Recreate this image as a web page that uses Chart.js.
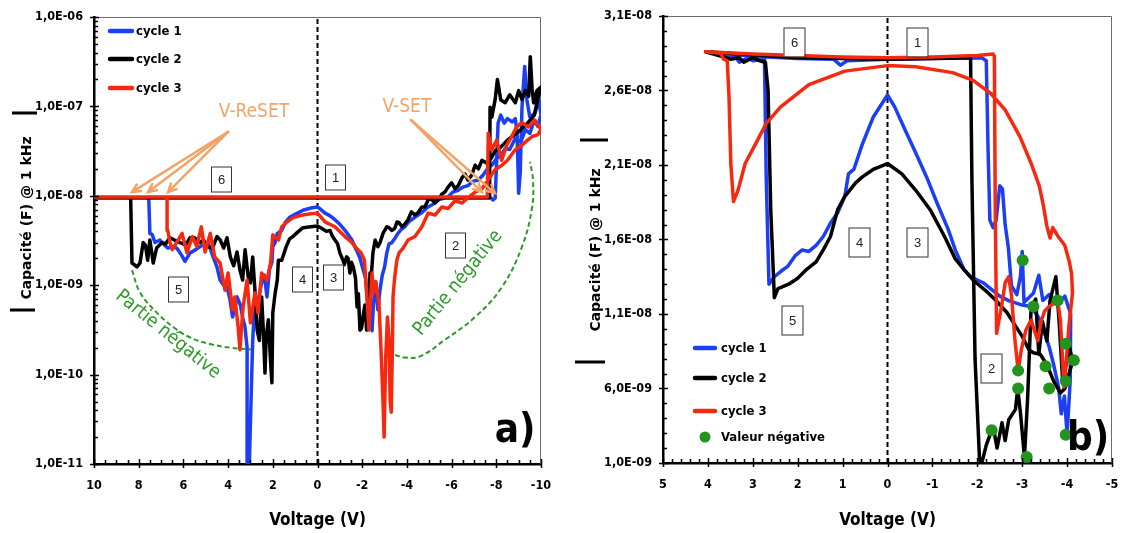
<!DOCTYPE html>
<html>
<head>
<meta charset="utf-8">
<script src="https://cdn.jsdelivr.net/npm/chart.js@4"></script>
<style>
html, body { margin: 0; padding: 0; background: #fff; }
#wrap { position: relative; width: 1126px; height: 533px; overflow: hidden; }
#ca { position: absolute; left: 0; top: 0; }
#cb { position: absolute; left: 560px; top: 0; }
</style>
</head>
<body>
<div id="wrap">
<canvas id="ca" width="560" height="533"></canvas>
<canvas id="cb" width="566" height="533"></canvas>
</div>
<script>
// ---------- panel a) : log scale ----------
var aTicksX = [10, 8, 6, 4, 2, 0, -2, -4, -6, -8, -10]
var aTicksY = [1e-11, 1e-10, 1e-9, 1e-8, 1e-7, 1e-6]

// cycle 1
var a1V = [0, -7.75, -7.85, -7.95, -8.08, -8.2, -8.35, -8.5, -8.72, -8.85, -8.93, -9.0, -9.07, -9.15, -9.27, -9.37, -9.5, -9.73, -9.9, -10,
  -9.85, -9.7, -9.5, -9.3, -9.1, -8.85, -8.6, -8.4, -8.2, -8.0, -7.8, -7.6, -7.4, -7.2, -6.95, -6.73, -6.5, -6.29, -6.05, -5.84, -5.6, -5.4, -5.15, -4.94, -4.7, -4.5, -4.2, -4.05, -3.9, -3.75, -3.6, -3.45, -3.33, -3.2, -3.1, -3.0, -2.9, -2.8, -2.7, -2.6, -2.5, -2.44, -2.35, -2.26, -2.15, -2.04, -1.9, -1.8, -1.67, -1.54, -1.4, -1.23, -1.0, -0.78, -0.55, -0.34, -0.1, 0,
  0.3, 0.65, 1.0, 1.23, 1.45, 1.6, 1.8, 1.9, 2.0, 2.04, 2.15, 2.26, 2.38, 2.5, 2.6, 2.7, 2.8, 2.9, 3.0, 3.05, 3.12, 3.15, 3.25, 3.33, 3.45, 3.6, 3.7, 3.8, 3.92, 4.05, 4.2, 4.36, 4.5, 4.67, 4.8, 4.9, 5.05, 5.26, 5.45, 5.7, 5.93, 6.05, 6.15, 6.3, 6.47, 6.7, 6.9, 7.05, 7.27, 7.4, 7.5, 7.55, 10, 0]
var a1C = [9.5e-9, 9.5e-9, 9.0e-9, 9.4e-9, 6.5e-8, 8.0e-8, 6.5e-8, 7.3e-8, 6.7e-8, 7.3e-8, 5.1e-8, 1.07e-8, 1.8e-8, 9.8e-8, 2.8e-7, 1.18e-7, 7.6e-8, 8.4e-8, 1.18e-7, 8.0e-8,
  6.0e-8, 7.0e-8, 5.0e-8, 5.5e-8, 4.0e-8, 4.4e-8, 3.3e-8, 3.4e-8, 2.8e-8, 2.6e-8, 2.2e-8, 2.0e-8, 1.7e-8, 1.5e-8, 1.45e-8, 1.3e-8, 1.25e-8, 1.15e-8, 1.1e-8, 9.7e-9, 9.3e-9, 9.0e-9, 8.0e-9, 7.5e-9, 6.6e-9, 6.1e-9, 5.4e-9, 5.0e-9, 4.5e-9, 4.2e-9, 3.8e-9, 3.3e-9, 3.0e-9, 2.9e-9, 2.3e-9, 1.6e-9, 1.3e-9, 9e-10, 5.3e-10, 1.1e-9, 6e-10, 3.1e-10, 6.5e-10, 5.7e-10, 1.2e-9, 1.5e-9, 2.0e-9, 2.3e-9, 2.7e-9, 3.2e-9, 3.6e-9, 4.1e-9, 4.8e-9, 5.4e-9, 6.0e-9, 6.4e-9, 7.2e-9, 7.5e-9,
  7.3e-9, 6.9e-9, 6.2e-9, 5.8e-9, 5.0e-9, 4.1e-9, 3.8e-9, 3.0e-9, 2.7e-9, 1.8e-9, 1.5e-9, 7.4e-10, 1.3e-9, 1.06e-9, 8e-10, 5.7e-10, 7e-10, 2.4e-10, 3e-11, 1e-11, 1e-11, 2e-10, 3.5e-10, 4.1e-10, 6e-10, 7.4e-10, 5.5e-10, 4.4e-10, 7e-10, 9.5e-10, 1.0e-9, 1.14e-9, 1.6e-9, 2.07e-9, 2.6e-9, 3.0e-9, 2.9e-9, 2.7e-9, 2.5e-9, 2.3e-9, 1.85e-9, 2.1e-9, 2.3e-9, 2.6e-9, 2.7e-9, 2.6e-9, 2.9e-9, 3.2e-9, 3.0e-9, 3.7e-9, 3.8e-9, 9.5e-9, 9.5e-9, 9.5e-9]

// cycle 2
var a2V = [0, -7.7, -7.72, -7.8, -7.95, -8.05, -8.2, -8.4, -8.6, -8.85, -9.0, -9.15, -9.3, -9.45, -9.52, -9.6, -9.67, -9.82, -10,
  -9.85, -9.7, -9.4, -9.1, -8.8, -8.5, -8.2, -7.95, -7.8, -7.6, -7.36, -7.2, -7.05, -6.9, -6.73, -6.6, -6.47, -6.3, -6.15, -6.0, -5.84, -5.7, -5.57, -5.4, -5.26, -5.1, -4.95, -4.8, -4.67, -4.5, -4.36, -4.2, -4.05, -3.9, -3.78, -3.65, -3.56, -3.45, -3.33, -3.2, -3.1, -2.93, -2.8, -2.7, -2.58, -2.48, -2.4, -2.35, -2.28, -2.2, -2.12, -2.04, -1.97, -1.9, -1.83, -1.77, -1.7, -1.6, -1.52, -1.45, -1.37, -1.3, -1.2, -1.14, -1.0, -0.9, -0.78, -0.65, -0.56, -0.4, -0.2, 0,
  0.3, 0.65, 0.9, 1.1, 1.25, 1.4, 1.6, 1.75, 1.8, 1.9, 2.0, 2.04, 2.1, 2.2, 2.3, 2.35, 2.42, 2.5, 2.6, 2.7, 2.8, 2.9, 3.0, 3.1, 3.24, 3.35, 3.47, 3.6, 3.75, 3.9, 4.05, 4.2, 4.35, 4.5, 4.7, 4.95, 5.1, 5.26, 5.5, 5.7, 5.9, 6.15, 6.4, 6.6, 6.8, 6.96, 7.2, 7.35, 7.5, 7.6, 7.7, 7.8, 7.94, 8.08, 8.2, 8.3, 8.36, 10, 0]
var a2C = [9.5e-9, 9.5e-9, 9.8e-8, 7.6e-8, 1.2e-7, 2.0e-7, 1.18e-7, 1.1e-7, 1.35e-7, 1.1e-7, 1.5e-7, 1.2e-7, 1.5e-7, 1.3e-7, 3.6e-7, 1.6e-7, 1.1e-7, 1.5e-7, 1.65e-7,
  1.2e-7, 8.0e-8, 6.5e-8, 5.5e-8, 4.8e-8, 4.2e-8, 3.5e-8, 3.2e-8, 2.7e-8, 2.3e-8, 2.5e-8, 2.0e-8, 2.2e-8, 1.7e-8, 1.5e-8, 1.75e-8, 1.6e-8, 1.3e-8, 1.2e-8, 1.4e-8, 1.25e-8, 1.1e-8, 1.05e-8, 9.0e-9, 8.3e-9, 9.2e-9, 9.0e-9, 7.5e-9, 7.5e-9, 6.5e-9, 6.1e-9, 6.6e-9, 5.4e-9, 4.8e-9, 4.5e-9, 5.0e-9, 5.1e-9, 4.3e-9, 4.1e-9, 4.4e-9, 4.5e-9, 3.8e-9, 3.0e-9, 2.7e-9, 3.2e-9, 2.3e-9, 1.2e-9, 1.37e-9, 5.0e-10, 3.15e-10, 6e-10, 4.5e-10, 3.3e-10, 3.15e-10, 8e-10, 5.7e-10, 1.2e-9, 1.6e-9, 1.8e-9, 1.37e-9, 2.0e-9, 2.07e-9, 1.7e-9, 1.9e-9, 2.3e-9, 2.9e-9, 3.2e-9, 3.6e-9, 4.1e-9, 4.0e-9, 4.3e-9, 4.6e-9,
  4.5e-9, 4.4e-9, 3.9e-9, 3.5e-9, 3.3e-9, 2.7e-9, 1.9e-9, 1.9e-9, 1.14e-9, 8e-10, 4.9e-10, 8.1e-11, 1.4e-10, 4.1e-10, 2.5e-10, 1.04e-10, 3e-10, 7.4e-10, 2.4e-10, 3.15e-10, 8.8e-10, 2.07e-9, 1.06e-9, 1.24e-9, 2.5e-9, 1.14e-9, 1.48e-9, 2.35e-9, 1.65e-9, 2.07e-9, 3.4e-9, 2.6e-9, 3.2e-9, 3.5e-9, 2.6e-9, 2.7e-9, 3.2e-9, 3.0e-9, 3.4e-9, 3.4e-9, 2.8e-9, 3.0e-9, 3.2e-9, 3.4e-9, 2.9e-9, 3.0e-9, 2.6e-9, 1.77e-9, 3.2e-9, 1.9e-9, 2.8e-9, 3.0e-9, 1.77e-9, 1.6e-9, 1.7e-9, 1.77e-9, 9.5e-9, 9.5e-9, 9.5e-9]

// cycle 3
var a3V = [0, -7.6, -7.64, -7.79, -8.02, -8.24, -8.47, -8.69, -8.91, -9.14, -9.43, -9.73, -10,
  -9.85, -9.6, -9.4, -9.15, -8.84, -8.5, -8.25, -7.94, -7.63, -7.36, -7.05, -6.73, -6.47, -6.15, -5.84, -5.57, -5.26, -4.95, -4.67, -4.36, -4.05, -3.83, -3.65, -3.55, -3.45, -3.38, -3.35, -3.3, -3.25, -3.2, -3.13, -3.05, -2.98, -2.92, -2.85, -2.75, -2.6, -2.5, -2.44, -2.3, -2.22, -2.1, -1.95, -1.8, -1.54, -1.23, -0.78, -0.34, 0,
  0.3, 0.67, 1.1, 1.4, 1.6, 1.75, 2.0, 2.1, 2.26, 2.5, 2.66, 2.8, 3.0, 3.15, 3.33, 3.47, 3.55, 3.7, 3.8, 4.0, 4.14, 4.36, 4.6, 4.8, 5.03, 5.2, 5.4, 5.6, 5.84, 6.06, 6.3, 6.5, 6.6, 6.7, 6.73, 10, 0]
var a3C = [9.7e-9, 9.7e-9, 5.0e-8, 3.25e-8, 4.2e-8, 2.5e-8, 3.7e-8, 4.6e-8, 5.9e-8, 6.6e-8, 5.9e-8, 7.0e-8, 5.5e-8,
  4.8e-8, 4.6e-8, 4.2e-8, 3.7e-8, 3.25e-8, 2.5e-8, 2.2e-8, 1.95e-8, 1.5e-8, 1.2e-8, 1.1e-8, 9.5e-9, 8.3e-9, 8.8e-9, 7.2e-9, 7.5e-9, 6.1e-9, 6.4e-9, 4.5e-9, 3.5e-9, 3.2e-9, 2.6e-9, 2.3e-9, 1.9e-9, 1.2e-9, 7.4e-10, 2e-10, 3.8e-11, 5e-11, 2.5e-10, 4.4e-10, 1.5e-10, 2.0e-11, 6e-11, 1.7e-10, 6.3e-10, 1.1e-9, 8.2e-10, 1.37e-9, 3.15e-10, 6.8e-10, 1.9e-9, 2.3e-9, 2.5e-9, 3.0e-9, 3.5e-9, 4.5e-9, 5.1e-9, 6.4e-9,
  6.3e-9, 6.1e-9, 5.7e-9, 5.0e-9, 4.5e-9, 3.2e-9, 3.65e-9, 1.77e-9, 1.14e-9, 1.37e-9, 4.9e-10, 8.2e-10, 3.8e-10, 1.14e-9, 5.7e-10, 1.9e-10, 3.4e-10, 7.4e-10, 5.3e-10, 1.37e-9, 8.8e-10, 1.77e-9, 2.07e-9, 3.8e-9, 2.35e-9, 4.5e-9, 2.7e-9, 3.5e-9, 2.3e-9, 3.8e-9, 3.0e-9, 2.5e-9, 3.0e-9, 4.1e-9, 9.7e-9, 9.7e-9, 9.7e-9]

// green dashed guides ("Partie négative")
var aNegLV = [8.3, 7.94, 7.18, 6.38, 5.7, 4.81, 3.91, 2.89]
var aNegLC = [1.48e-9, 8.3e-10, 4.9e-10, 3.3e-10, 2.6e-10, 2.2e-10, 2.0e-10, 1.9e-10]
var aNegRV = [-3.47, -3.91, -4.59, -5.7, -7.05, -8.26, -9.15, -9.6, -9.64, -9.51]
var aNegRC = [1.66e-10, 1.55e-10, 1.6e-10, 2.45e-10, 4.4e-10, 9.6e-10, 2.7e-9, 7.4e-9, 1.5e-8, 2.4e-8]

// ---------- panel b) : linear scale ----------
var bTicksX = [5, 4, 3, 2, 1, 0, -1, -2, -3, -4, -5]
var bTicksY = [1e-9, 6e-9, 1.1e-8, 1.6e-8, 2.1e-8, 2.6e-8, 3.1e-8]

var b1V = [0, -1.0, -2.1, -2.2, -2.24, -2.28, -2.35, -2.42, -2.5, -2.56, -2.62, -2.69, -2.76, -2.88, -2.96, -3.0, -3.04, -3.15, -3.25, -3.37, -3.46, -3.6, -3.78, -3.95, -4.08, -4.07, -4.0, -3.94, -3.87, -3.81, -3.7, -3.6, -3.4, -3.2, -3.0, -2.7, -2.5, -2.13, -1.85, -1.7, -1.51, -1.35, -1.11, -0.87, -0.63, -0.4, -0.16, 0,
  0.32, 0.56, 0.75, 0.87, 0.95, 1.11, 1.27, 1.43, 1.59, 1.75, 1.9, 2.06, 2.22, 2.36, 2.52, 2.64, 2.7, 2.74, 3.0, 3.1, 3.3, 3.4, 3.7, 4.05, 3.0, 2.0, 1.2, 1.05, 0.9, 0]
var b1C = [28.1e-9, 28.15e-9, 28.2e-9, 28.0e-9, 22e-9, 17.3e-9, 16.8e-9, 17.3e-9, 19.6e-9, 19.4e-9, 17e-9, 15.5e-9, 12.9e-9, 12.3e-9, 13.5e-9, 15.2e-9, 11.8e-9, 12.1e-9, 12.4e-9, 13.6e-9, 11.9e-9, 12.3e-9, 11.6e-9, 12.2e-9, 11.0e-9, 6.6e-9, 2.9e-9, 5.5e-9, 4.3e-9, 6.1e-9, 7.6e-9, 8.8e-9, 10.6e-9, 11.5e-9, 11.6e-9, 11.9e-9, 12.2e-9, 13.1e-9, 13.5e-9, 14.0e-9, 15.3e-9, 16.7e-9, 18.4e-9, 20.2e-9, 21.8e-9, 23.3e-9, 24.9e-9, 25.7e-9,
  24.2e-9, 22.4e-9, 20.7e-9, 20.4e-9, 18.9e-9, 17.8e-9, 17.1e-9, 16.2e-9, 15.6e-9, 15.2e-9, 15.3e-9, 14.9e-9, 14.2e-9, 13.9e-9, 13.5e-9, 13.0e-9, 20e-9, 28.1e-9, 28.0e-9, 28.2e-9, 27.9e-9, 28.3e-9, 28.4e-9, 28.6e-9, 28.3e-9, 28.15e-9, 28.1e-9, 27.7e-9, 28.0e-9, 28.1e-9]

var b2V = [0, -1.0, -1.85, -1.88, -1.95, -2.05, -2.1, -2.2, -2.32, -2.38, -2.44, -2.55, -2.62, -2.7, -2.85, -2.9, -2.96, -3.05, -3.12, -3.2, -3.3, -3.37, -3.45, -3.55, -3.62, -3.75, -3.82, -3.9, -3.97, -4.05, -4.12,
  -4.1, -3.95, -3.85, -3.7, -3.55, -3.4, -3.25, -3.15, -3.0, -2.85, -2.66, -2.45, -2.25, -1.9, -1.7, -1.51, -1.27, -0.95, -0.63, -0.32, 0,
  0.32, 0.56, 0.71, 0.95, 1.11, 1.27, 1.43, 1.59, 1.8, 2.0, 2.2, 2.44, 2.52, 2.6, 2.66, 2.72, 2.85, 3.0, 3.2, 3.3, 3.5, 3.7, 4.05, 2.0, 0]
var b2C = [28.1e-9, 28.15e-9, 28.2e-9, 20e-9, 8e-9, 1.2e-9, 1.0e-9, 2.2e-9, 3.2e-9, 3.0e-9, 2.0e-9, 3.7e-9, 2.5e-9, 3.9e-9, 4.6e-9, 6.0e-9, 4.4e-9, 1.4e-9, 5.3e-9, 11.5e-9, 12.0e-9, 8.3e-9, 10.5e-9, 9.2e-9, 11.9e-9, 13.5e-9, 10.6e-9, 6.6e-9, 7.5e-9, 8.8e-9, 7.9e-9,
  7.6e-9, 6.0e-9, 5.7e-9, 6.5e-9, 7.6e-9, 8.3e-9, 8.4e-9, 8.6e-9, 9.5e-9, 10.2e-9, 11.1e-9, 11.8e-9, 12.4e-9, 13.3e-9, 14.0e-9, 14.7e-9, 16.2e-9, 18.0e-9, 19.3e-9, 20.4e-9, 21.1e-9,
  20.7e-9, 20.2e-9, 19.8e-9, 18.9e-9, 18.0e-9, 16.2e-9, 15.3e-9, 14.5e-9, 14.0e-9, 13.4e-9, 13.0e-9, 12.7e-9, 12.1e-9, 18e-9, 26e-9, 27.9e-9, 28.0e-9, 28.2e-9, 27.9e-9, 28.2e-9, 28.1e-9, 28.3e-9, 28.6e-9, 28.2e-9, 28.1e-9]

var b3V = [0, -1.0, -2.0, -2.35, -2.38, -2.4, -2.43, -2.54, -2.62, -2.7, -2.76, -2.84, -2.91, -2.98, -3.08, -3.2, -3.27, -3.35, -3.42, -3.5, -3.6, -3.7, -3.79, -3.85, -3.89, -3.93, -3.96, -4.04, -4.12,
  -4.1, -4.05, -3.95, -3.8, -3.68, -3.62, -3.55, -3.47, -3.38, -3.2, -2.95, -2.62, -2.3, -1.9, -1.45, -0.63, 0,
  0.95, 1.75, 2.38, 2.7, 2.94, 3.17, 3.33, 3.43, 3.49, 3.53, 3.57, 3.65, 3.72, 4.05, 3.0, 2.0, 1.0, 0]
var b3C = [28.2e-9, 28.25e-9, 28.35e-9, 28.45e-9, 28.3e-9, 18e-9, 9.7e-9, 11.5e-9, 13.1e-9, 13.5e-9, 12.3e-9, 9.2e-9, 7.2e-9, 8.6e-9, 9.9e-9, 10.6e-9, 9.9e-9, 9.2e-9, 10.5e-9, 11.2e-9, 11.5e-9, 11.7e-9, 11.9e-9, 10.6e-9, 8.4e-9, 6.1e-9, 7.0e-9, 10.2e-9, 12.4e-9,
  13.7e-9, 14.5e-9, 15.6e-9, 16.2e-9, 16.8e-9, 16.1e-9, 16.9e-9, 18.3e-9, 19.6e-9, 21.1e-9, 22.9e-9, 24.7e-9, 25.8e-9, 26.7e-9, 27.2e-9, 27.6e-9, 27.67e-9,
  27.3e-9, 26.4e-9, 24.9e-9, 23.8e-9, 22.4e-9, 21.1e-9, 19.3e-9, 18.55e-9, 21.1e-9, 25.6e-9, 28.0e-9, 28.1e-9, 28.5e-9, 28.6e-9, 28.45e-9, 28.35e-9, 28.25e-9, 28.2e-9]

// points where the measured value was negative
var bNegV = [-3.01, -3.25, -3.79, -3.97, -4.15, -2.91, -2.91, -3.52, -3.6, -3.97, -2.32, -3.97, -3.1]
var bNegC = [14.6e-9, 11.5e-9, 11.9e-9, 9.0e-9, 7.9e-9, 7.2e-9, 6.0e-9, 7.5e-9, 6.0e-9, 6.5e-9, 3.2e-9, 2.9e-9, 1.4e-9]

var BLUE = '#1c3ef4'
var BLACK = '#000000'
var RED = '#f5290f'
var GREEN = '#2f9a2a'
var DOT = '#22931f'
var ORANGE = '#f2a468'
var NARROW = "'Liberation Sans Narrow', 'DejaVu Sans Condensed', sans-serif"

function pts(xs, ys) {
    return xs.map(function (x, i) { return { x: x, y: ys[i] } })
}

function fmtE(v) {
    var p = v.toExponential(1).split('e')
    var e = parseInt(p[1], 10)
    return p[0].replace('.', ',') + 'E' + (e < 0 ? '-' : '+') + String(Math.abs(e)).padStart(2, '0')
}

function curve(label, xs, ys, color, order) {
    return { label: label, data: pts(xs, ys), borderColor: color, backgroundColor: color, showLine: true,
        borderWidth: 3.5, pointRadius: 0, borderJoinStyle: 'round', borderCapStyle: 'round', order: order }
}

// draws frame, tick marks, boxed numbers, arrows, texts, titles and legend
function decoPlugin(spec) {
    return {
        id: 'deco',
        beforeDatasetsDraw: function (chart) {
            var ctx = chart.ctx, a = chart.chartArea
            ctx.save()
            ctx.strokeStyle = '#6b6b6b'
            ctx.lineWidth = 1
            ctx.beginPath()
            ctx.moveTo(a.left, a.top + 0.5)
            ctx.lineTo(a.right - 0.5, a.top + 0.5)
            ctx.lineTo(a.right - 0.5, a.bottom)
            ctx.stroke()
            ctx.restore()
        },
        afterDatasetsDraw: function (chart) {
            var ctx = chart.ctx
            var X = function (v) { return chart.scales.x.getPixelForValue(v) }
            var Y = function (v) { return chart.scales.y.getPixelForValue(v) }
            ctx.save()
            spec.arrows.forEach(function (ar) {
                var x0 = X(ar.from[0]), y0 = Y(ar.from[1]), x1 = X(ar.to[0]), y1 = Y(ar.to[1])
                var ang = Math.atan2(y1 - y0, x1 - x0)
                ctx.strokeStyle = ORANGE
                ctx.lineWidth = 2.5
                ctx.lineCap = 'round'
                ctx.beginPath()
                ctx.moveTo(x0, y0)
                ctx.lineTo(x1, y1)
                ctx.moveTo(x1 - 9 * Math.cos(ang - 0.45), y1 - 9 * Math.sin(ang - 0.45))
                ctx.lineTo(x1, y1)
                ctx.lineTo(x1 - 9 * Math.cos(ang + 0.45), y1 - 9 * Math.sin(ang + 0.45))
                ctx.stroke()
            })
            spec.texts.forEach(function (t) {
                ctx.save()
                ctx.translate(X(t.x), Y(t.y))
                ctx.rotate((t.rot || 0) * Math.PI / 180)
                ctx.font = t.font
                ctx.fillStyle = t.color
                ctx.textAlign = 'center'
                ctx.textBaseline = 'middle'
                ctx.fillText(t.text, 0, 0)
                ctx.restore()
            })
            spec.boxes.forEach(function (b) {
                var cx = Math.round(X(b.x)), cy = Math.round(Y(b.y))
                var w = spec.boxW, h = spec.boxH
                ctx.fillStyle = '#fff'
                ctx.fillRect(cx - w / 2, cy - h / 2, w, h)
                ctx.strokeStyle = '#333'
                ctx.lineWidth = 1
                ctx.strokeRect(cx - w / 2 + 0.5, cy - h / 2 + 0.5, w, h)
                ctx.fillStyle = '#222'
                ctx.font = "13px 'Liberation Sans', sans-serif"
                ctx.textAlign = 'center'
                ctx.textBaseline = 'middle'
                ctx.fillText(b.label, cx + 0.5, cy + 1)
            })
            ctx.restore()
        },
        afterDraw: function (chart) {
            var ctx = chart.ctx, a = chart.chartArea
            var X = function (v) { return chart.scales.x.getPixelForValue(v) }
            var Y = function (v) { return chart.scales.y.getPixelForValue(v) }
            ctx.save()
            // tick marks
            ctx.strokeStyle = '#000'
            ctx.lineWidth = 1.5
            ctx.beginPath()
            spec.minorX.forEach(function (v) {
                var x = Math.round(X(v)) + 0.5
                ctx.moveTo(x, a.bottom); ctx.lineTo(x, a.bottom - 4)
            })
            spec.majorX.forEach(function (v) {
                var x = Math.round(X(v)) + 0.5
                ctx.moveTo(x, a.bottom + 4); ctx.lineTo(x, a.bottom - 5)
            })
            spec.minorY.forEach(function (v) {
                var y = Math.round(Y(v)) + 0.5
                ctx.moveTo(a.left, y); ctx.lineTo(a.left + 4, y)
            })
            spec.majorY.forEach(function (v) {
                var y = Math.round(Y(v)) + 0.5
                ctx.moveTo(a.left - 4, y); ctx.lineTo(a.left + 5, y)
            })
            ctx.stroke()

            // x title
            ctx.fillStyle = '#000'
            ctx.font = 'bold 17px ' + NARROW
            ctx.textAlign = 'center'
            ctx.textBaseline = 'middle'
            ctx.fillText('Voltage (V)', (a.left + a.right) / 2, spec.xTitleY)

            // y title with the |...| bars
            ctx.save()
            ctx.translate(spec.yTitle.x, spec.yTitle.y)
            ctx.rotate(-Math.PI / 2)
            ctx.font = "bold 14px 'DejaVu Sans', sans-serif"
            ctx.fillText('Capacité (F) @ 1 kHz', 0, 0)
            ctx.restore()
            ctx.lineWidth = 3
            ctx.beginPath()
            spec.bars.forEach(function (b) {
                ctx.moveTo(b[0], b[1]); ctx.lineTo(b[2], b[1])
            })
            ctx.stroke()

            // legend
            spec.legend.forEach(function (it) {
                if (it.dot) {
                    ctx.fillStyle = it.color
                    ctx.beginPath()
                    ctx.arc((it.x0 + it.x1) / 2, it.y, 5.5, 0, Math.PI * 2)
                    ctx.fill()
                } else {
                    ctx.strokeStyle = it.color
                    ctx.lineWidth = 4.5
                    ctx.lineCap = 'round'
                    ctx.beginPath()
                    ctx.moveTo(it.x0, it.y); ctx.lineTo(it.x1, it.y)
                    ctx.stroke()
                }
                ctx.fillStyle = '#000'
                ctx.font = 'bold 13px ' + NARROW
                ctx.textAlign = 'left'
                ctx.textBaseline = 'middle'
                ctx.fillText(it.label, it.tx, it.y + 1)
            })
            ctx.restore()
        }
    }
}

function range(from, to, step) {
    var out = []
    for (var v = from; v <= to + step / 2; v += step) out.push(Math.round(v * 1000) / 1000)
    return out
}

var aMinorY = []
aTicksY.slice(0, -1).forEach(function (d) {
    for (var m = 2; m <= 9; m++) aMinorY.push(m * d)
})

var specA = {
    boxW: 20, boxH: 25,
    boxes: [
        { label: '6', x: 4.32, y: 1.54e-8 }, { label: '1', x: -0.78, y: 1.62e-8 },
        { label: '5', x: 6.24, y: 9.1e-10 }, { label: '4', x: 0.69, y: 1.17e-9 },
        { label: '3', x: -0.69, y: 1.24e-9 }, { label: '2', x: -6.15, y: 2.8e-9 }
    ],
    arrows: [
        { from: [4.0, 5.2e-8], to: [8.3, 1.1e-8] },
        { from: [4.0, 5.2e-8], to: [7.58, 1.1e-8] },
        { from: [4.0, 5.2e-8], to: [6.69, 1.1e-8] },
        { from: [-4.18, 7.05e-8], to: [-7.94, 1.07e-8] },
        { from: [-4.18, 7.05e-8], to: [-7.35, 1.1e-8] }
    ],
    texts: [
        { text: 'V-ReSET', x: 2.84, y: 8.65e-8, font: '19px ' + NARROW, color: ORANGE },
        { text: 'V-SET', x: -4.0, y: 9.8e-8, font: '19px ' + NARROW, color: ORANGE },
        { text: 'Partie négative', x: 6.69, y: 2.8e-10, rot: 39, font: '19px ' + NARROW, color: GREEN },
        { text: 'Partie négative', x: -6.29, y: 1.06e-9, rot: -51, font: '19px ' + NARROW, color: GREEN },
        { text: 'a)', x: -8.84, y: 2.3e-11, font: 'bold 40px ' + NARROW, color: '#000' }
    ],
    minorX: range(-10, 10, 0.5),
    majorX: aTicksX,
    minorY: aMinorY,
    majorY: aTicksY,
    xTitleY: 521,
    yTitle: { x: 27, y: 218 },
    bars: [[12, 113, 37], [10, 310, 35]],
    legend: [
        { label: 'cycle 1', color: BLUE, x0: 110, x1: 132, y: 31, tx: 136 },
        { label: 'cycle 2', color: BLACK, x0: 110, x1: 132, y: 59, tx: 136 },
        { label: 'cycle 3', color: RED, x0: 110, x1: 132, y: 88, tx: 136 }
    ]
}

var specB = {
    boxW: 21, boxH: 29,
    boxes: [
        { label: '6', x: 2.08, y: 29.26e-9 }, { label: '1', x: -0.66, y: 29.26e-9 },
        { label: '4', x: 0.63, y: 15.83e-9 }, { label: '3', x: -0.66, y: 15.83e-9 },
        { label: '5', x: 2.13, y: 10.6e-9 }, { label: '2', x: -2.3, y: 7.38e-9 }
    ],
    arrows: [],
    texts: [
        { text: 'b)', x: -4.47, y: 2.54e-9, font: 'bold 40px ' + NARROW, color: '#000' }
    ],
    minorX: range(-5, 5, 0.2),
    majorX: bTicksX,
    minorY: range(1, 31, 1).map(function (v) { return v * 1e-9 }),
    majorY: bTicksY,
    xTitleY: 521,
    yTitle: { x: 36, y: 250 },
    bars: [[20, 140, 48], [15, 362, 45]],
    legend: [
        { label: 'cycle 1', color: BLUE, x0: 135, x1: 155, y: 348, tx: 161 },
        { label: 'cycle 2', color: BLACK, x0: 135, x1: 155, y: 378, tx: 161 },
        { label: 'cycle 3', color: RED, x0: 135, x1: 155, y: 411, tx: 161 },
        { label: 'Valeur négative', color: DOT, dot: true, x0: 135, x1: 155, y: 437, tx: 161 }
    ]
}

function axisX(ticks, min, max, height) {
    return {
        type: 'linear', min: min, max: max, reverse: true,
        afterBuildTicks: function (s) { s.ticks = ticks.map(function (v) { return { value: v } }) },
        afterFit: function (s) { s.height = height; s.paddingLeft = 0; s.paddingRight = 0 },
        grid: { display: false, drawTicks: false },
        border: { display: true, color: '#000', width: 2.5 },
        ticks: { color: '#000', padding: 14, maxRotation: 0, autoSkip: false,
            font: { family: NARROW, size: 12.5, weight: 'bold' },
            callback: function (v) { return String(v) } }
    }
}

function axisY(type, ticks, min, max, width) {
    return {
        type: type, min: min, max: max,
        afterBuildTicks: function (s) { s.ticks = ticks.map(function (v) { return { value: v } }) },
        afterFit: function (s) { s.width = width; s.paddingTop = 0; s.paddingBottom = 0 },
        grid: { display: false, drawTicks: false },
        border: { display: true, color: '#000', width: 2.5 },
        ticks: { color: '#000', padding: 11, autoSkip: false,
            font: { family: NARROW, size: 12.5, weight: 'bold' },
            callback: function (v) { return fmtE(v) } }
    }
}

var chartA = new Chart(document.getElementById('ca'), {
    type: 'scatter',
    data: {
        datasets: [
            curve('cycle 1', a1V, a1C, BLUE, 3),
            curve('cycle 2', a2V, a2C, BLACK, 2),
            curve('cycle 3', a3V, a3C, RED, 1),
            { label: 'V = 0', data: [{ x: 0, y: 1e-11 }, { x: 0, y: 1e-6 }], showLine: true, borderColor: '#000',
              borderWidth: 2, borderDash: [5, 3], pointRadius: 0, order: 4 },
            { label: 'neg L', data: pts(aNegLV, aNegLC), showLine: true, borderColor: GREEN, borderWidth: 2,
              borderDash: [5, 3], tension: 0.4, pointRadius: 0, order: 5 },
            { label: 'neg R', data: pts(aNegRV, aNegRC), showLine: true, borderColor: GREEN, borderWidth: 2,
              borderDash: [5, 3], tension: 0.4, pointRadius: 0, order: 5 }
        ]
    },
    options: {
        responsive: false,
        animation: false,
        layout: { padding: { left: 0, right: 19, top: 17, bottom: 0 } },
        plugins: { legend: { display: false }, tooltip: { enabled: false } },
        scales: {
            x: axisX(aTicksX, -10, 10, 69),
            y: axisY('logarithmic', aTicksY, 1e-11, 1e-6, 94)
        }
    },
    plugins: [decoPlugin(specA)]
})

var chartB = new Chart(document.getElementById('cb'), {
    type: 'scatter',
    data: {
        datasets: [
            curve('cycle 1', b1V, b1C, BLUE, 3),
            curve('cycle 2', b2V, b2C, BLACK, 2),
            curve('cycle 3', b3V, b3C, RED, 1),
            { label: 'Valeur négative', data: pts(bNegV, bNegC), showLine: false, pointRadius: 6,
              pointBackgroundColor: DOT, pointBorderColor: DOT, pointBorderWidth: 0, order: 0 },
            { label: 'V = 0', data: [{ x: 0, y: 1e-9 }, { x: 0, y: 3.1e-8 }], showLine: true, borderColor: '#000',
              borderWidth: 2, borderDash: [5, 3], pointRadius: 0, order: 4 }
        ]
    },
    options: {
        responsive: false,
        animation: false,
        layout: { padding: { left: 0, right: 14, top: 16, bottom: 0 } },
        plugins: { legend: { display: false }, tooltip: { enabled: false } },
        scales: {
            x: axisX(bTicksX, -5, 5, 70),
            y: axisY('linear', bTicksY, 1e-9, 3.1e-8, 103)
        }
    },
    plugins: [decoPlugin(specB)]
})
</script>
</body>
</html>
